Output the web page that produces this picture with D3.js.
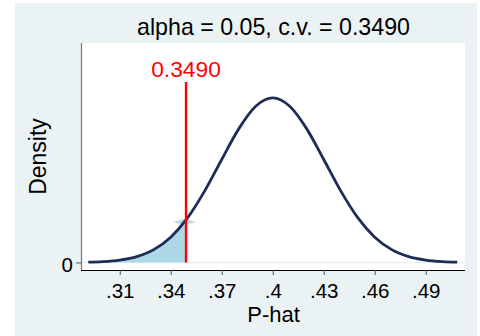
<!DOCTYPE html>
<html>
<head>
<meta charset="utf-8">
<script src="https://cdn.jsdelivr.net/npm/d3@7"></script>
<style>
  body { margin: 0; background: #fff; }
  svg { display: block; font-family: "Liberation Sans", Arial, sans-serif; }
</style>
</head>
<body>
<svg width="480" height="336"></svg>
<script>
// sampling density of P-hat
const pHat = [0.2915, 0.30, 0.31, 0.32, 0.33, 0.34, 0.349, 0.35, 0.36, 0.37, 0.38, 0.39, 0.40,
              0.41, 0.42, 0.43, 0.44, 0.45, 0.46, 0.47, 0.48, 0.49, 0.50, 0.5085]
const density = [0.028, 0.071, 0.190, 0.461, 1.006, 1.978, 3.325, 3.505, 5.598, 8.057, 10.451, 12.217, 12.869,
                 12.217, 10.451, 8.057, 5.598, 3.505, 1.978, 1.006, 0.461, 0.190, 0.071, 0.028]
const critVal = 0.349
const xTicks = [0.31, 0.34, 0.37, 0.40, 0.43, 0.46, 0.49]
const yTicks = [0]
const title = 'alpha = 0.05, c.v. = 0.3490'

const svg = d3.select('svg')
const pLeft = 82, pRight = 465, pTop = 43, pBottom = 270

svg.append('rect').attr('x', 15).attr('y', 3).attr('width', 462).attr('height', 333).attr('fill', '#eaf2f3')
svg.append('rect').attr('x', pLeft).attr('y', pTop).attr('width', pRight - pLeft).attr('height', pBottom - pTop).attr('fill', '#fff')

const x = d3.scaleLinear().domain([0.2878, 0.5131]).range([pLeft, pRight])
const y = d3.scaleLinear().domain([-0.59, 17.17]).range([pBottom, pTop])

const pts = pHat.map((p, i) => ({ p, d: density[i] }))

// zero gridline
svg.append('line')
    .attr('x1', pLeft).attr('x2', pRight)
    .attr('y1', y(0)).attr('y2', y(0))
    .attr('stroke', '#eaf2f3').attr('stroke-width', 1.5)

// shaded rejection region
const area = d3.area()
    .x(d => x(d.p)).y0(y(0)).y1(d => y(d.d))
    .curve(d3.curveMonotoneX)
svg.append('path')
    .datum(pts.filter(d => d.p <= critVal))
    .attr('d', area)
    .attr('fill', '#add8e6')

// small marker artifact at the crossing
const cx = x(critVal), cy = y(density[pHat.indexOf(critVal)]) + 2
svg.append('path')
    .attr('d', `M${cx - 13},${cy} L${cx - 2},${cy - 3} L${cx + 10},${cy} L${cx - 2},${cy + 3} Z`)
    .attr('fill', '#add8e6')

// density curve
svg.append('path')
    .datum(pts)
    .attr('d', d3.line().x(d => x(d.p)).y(d => y(d.d)).curve(d3.curveMonotoneX))
    .attr('fill', 'none')
    .attr('stroke', '#1e2d55')
    .attr('stroke-width', 2.8)

// critical value line
svg.append('line')
    .attr('x1', x(critVal)).attr('x2', x(critVal))
    .attr('y1', 82).attr('y2', y(0))
    .attr('stroke', '#ff0000').attr('stroke-width', 2.4)

svg.append('text')
    .attr('x', x(critVal)).attr('y', 77)
    .attr('text-anchor', 'middle')
    .attr('font-size', 22.8)
    .attr('fill', '#ff0000')
    .text(critVal.toFixed(4))

// axes
const xAxis = svg.append('g')
    .attr('transform', `translate(0, ${pBottom})`)
    .call(d3.axisBottom(x).tickValues(xTicks).tickSize(5).tickSizeOuter(0)
        .tickFormat(d => d3.format('.2f')(d).replace(/^0/, '').replace(/0$/, '')))
xAxis.select('.domain').attr('stroke', '#000').attr('stroke-width', 1.2)
    .attr('d', `M${pLeft - 1},0.5H${pRight}`)
xAxis.selectAll('.tick line').attr('stroke', '#555')
xAxis.selectAll('.tick text').attr('font-size', 20.5).attr('fill', '#000')
    .attr('dy', null).attr('y', 27.5)

const yAxis = svg.append('g')
    .attr('transform', `translate(${pLeft - 1}, 0)`)
    .call(d3.axisLeft(y).tickValues(yTicks).tickSize(5).tickSizeOuter(0))
yAxis.select('.domain').attr('stroke', '#777').attr('stroke-width', 1.2)
    .attr('d', `M0.5,${pTop}V${pBottom}`)
yAxis.selectAll('.tick line').attr('stroke', '#555')
yAxis.selectAll('.tick text').attr('font-size', 20.5).attr('fill', '#000')
    .attr('x', -8).attr('dy', '0.42em')

svg.append('text')
    .attr('x', (pLeft + pRight) / 2).attr('y', 35)
    .attr('text-anchor', 'middle').attr('font-size', 23.2)
    .text(title)

svg.append('text')
    .attr('x', (pLeft + pRight) / 2).attr('y', 322)
    .attr('text-anchor', 'middle').attr('font-size', 22)
    .text('P-hat')

svg.append('text')
    .attr('transform', `translate(46, ${(pTop + pBottom) / 2}) rotate(-90)`)
    .attr('text-anchor', 'middle').attr('font-size', 23)
    .text('Density')
</script>
</body>
</html>
